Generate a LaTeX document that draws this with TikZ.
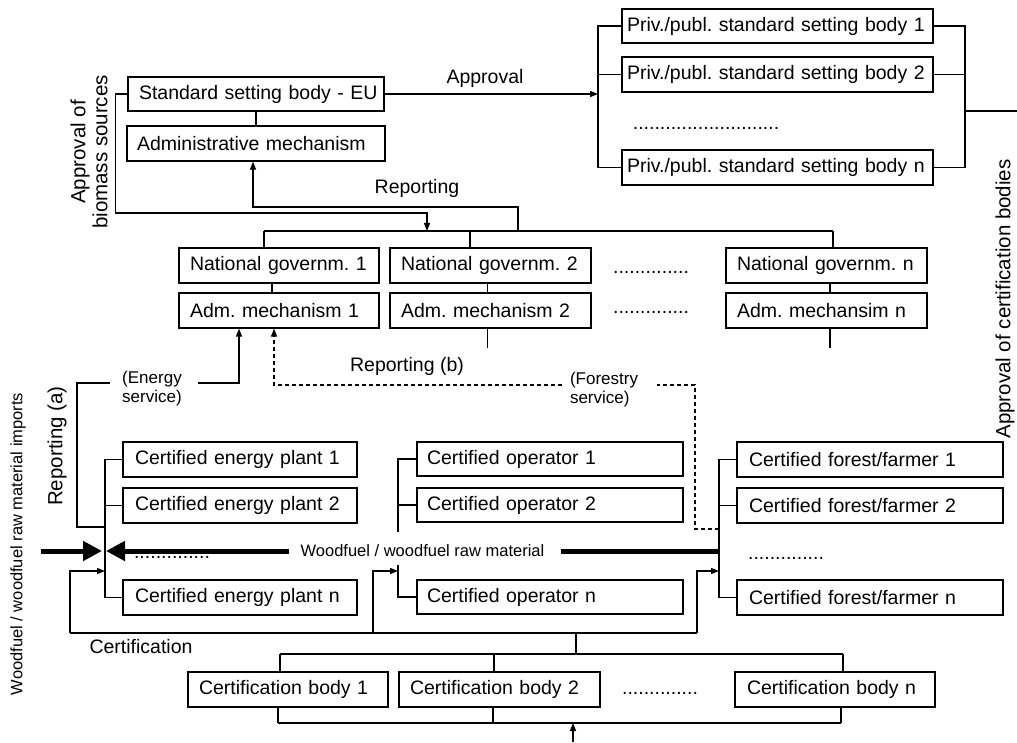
\documentclass[tikz,border=0pt]{standalone}
\usepackage{fontspec}
\setmainfont{Liberation Sans}
\usetikzlibrary{arrows.meta}
\frenchspacing
\newcommand\myfA{\fontsize{19.5}{22}\selectfont}
\newcommand\myfB{\fontsize{17}{19}\selectfont}
\newcommand\myfC{\fontsize{20.5}{22}\selectfont}
\newcommand\myfD{\fontsize{16.5}{19}\selectfont}
\newcommand\mybox[7]{%
  \pgfmathsetmacro\bxw{#4-#2-2*#6}%
  \pgfmathsetmacro\bxh{#5-#3}%
  \pgfmathsetmacro\bxcx{(#2+#4)/2}%
  \pgfmathsetmacro\bxcy{(#3+#5)/2}%
  \node[bx, text width=\bxw pt, inner xsep=#6pt, minimum height=\bxh pt] (#1) at (\bxcx,\bxcy) {\mbox{#7}};%
}
\begin{document}
\begin{tikzpicture}[x=1pt,y=-1pt,
  bx/.style={draw, line width=1.3pt, inner ysep=0pt, font=\myfA},
  ln/.style={line width=1.2pt},
  arr/.style={ln, -{Triangle[length=8pt,width=6pt]}},
  dsh/.style={line width=1.1pt, dash pattern=on 4pt off 3pt},
  big/.style={line width=5pt},
  bigarr/.style={line width=5pt, -{Triangle[length=19pt,width=19pt]}},
  lbl/.style={font=\myfA, inner sep=0pt},
  lblsm/.style={font=\myfB, inner sep=0pt, align=left},
  lblr/.style={font=\myfC, inner sep=0pt},
  lblw/.style={font=\myfD, inner sep=0pt}]
\fill[white] (0,0) rectangle (1017,743);
\useasboundingbox (0,0) rectangle (1017,743);

% boxes
\mybox{ssb}{128}{77}{384}{111}{11}{Standard setting body - EU}
\mybox{adm}{127}{126}{385}{161}{10}{Administrative mechanism}
\mybox{pa}{622}{9}{933}{43}{5}{Priv./publ. standard setting body 1}
\mybox{pb}{622}{57}{933}{92}{5}{Priv./publ. standard setting body 2}
\mybox{pn}{622}{150}{933}{185}{5}{Priv./publ. standard setting body n}
\mybox{nga}{179}{248}{379}{283}{11}{National governm. 1}
\mybox{ngb}{390}{248}{591}{283}{11}{National governm. 2}
\mybox{ngn}{726}{248}{927}{283}{11}{National governm. n}
\mybox{ama}{179}{293}{379}{328}{11}{Adm. mechanism 1}
\mybox{amb}{390}{293}{591}{328}{11}{Adm. mechanism 2}
\mybox{amn}{726}{293}{927}{328}{11}{Adm. mechansim n}
\mybox{epa}{123}{442}{357}{477}{12}{Certified energy plant 1}
\mybox{epb}{123}{488}{357}{523}{12}{Certified energy plant 2}
\mybox{epn}{123}{580}{357}{615}{12}{Certified energy plant n}
\mybox{opa}{417}{442}{683}{476}{10}{Certified operator 1}
\mybox{opb}{417}{488}{683}{522}{10}{Certified operator 2}
\mybox{opn}{417}{580}{683}{614}{10}{Certified operator n}
\mybox{ffa}{737}{442}{1003}{477}{12}{Certified forest/farmer 1}
\mybox{ffb}{737}{488}{1003}{523}{12}{Certified forest/farmer 2}
\mybox{ffn}{737}{580}{1003}{615}{12}{Certified forest/farmer n}
\mybox{cba}{188}{672}{388}{707}{11}{Certification body 1}
\mybox{cbb}{399}{672}{600}{707}{11}{Certification body 2}
\mybox{cbn}{735}{672}{935}{707}{12}{Certification body n}

% dots
\node[lbl] (d1) at (706,128) {...........................};
\node[lbl] (d2) at (651,272) {..............};
\node[lbl] (d3) at (651,312) {..............};
\node[lbl] (d4) at (172,557) {..............};
\node[lbl] (d5) at (786,558) {..............};
\node[lbl] (d6) at (660,693) {..............};

% labels
\node[lbl] (lap) at (485,78) {Approval};
\node[lbl] (lrep) at (417,188) {Reporting};
\node[lbl] (lrepb) at (407,366) {Reporting (b)};
\node[lbl] (lcert) at (141,647) {Certification};
\node[lblr, rotate=90, align=center] (lbio) at (89,152) {Approval of\\biomass sources};
\node[lblr, rotate=90] (lrepa) at (57,446) {Reporting (a)};
\node[lblw, rotate=90] (limp) at (18,544) {Woodfuel / woodfuel raw material imports};
\node[lblr, rotate=90] (lacb) at (1005,299) {Approval of certification bodies};
\node[lblsm] (es) at (152,389) {(Energy\\service)};
\node[lblsm] (fs) at (604,390) {(Forestry\\service)};
\node[lblw] (wf) at (422.5,551) {Woodfuel / woodfuel raw material};

% coordinates
\coordinate (pbl) at (598,0);
\coordinate (pbr) at (965,0);
\coordinate (apc) at (1017,111);
\coordinate (nbA) at (264,231);
\coordinate (nbC) at (470,231);
\coordinate (nbB) at (833,231);
\coordinate (rpx) at (253,0);
\coordinate (eb) at (105,0);
\coordinate (ob) at (398,0);
\coordinate (fb) at (719,0);
\coordinate (cta) at (280,654);
\coordinate (ctb) at (494,654);
\coordinate (ctn) at (843,654);
\coordinate (cua) at (278,723);
\coordinate (cub) at (493,723);
\coordinate (cun) at (841,723);

% top part
\draw[ln] (ssb.south) -- (adm.north);
\draw[arr] (ssb.east) -- (ssb.east -| pbl);
\draw[ln] (pa.west) -| (pbl |- pn.west) -- (pn.west);
\draw[ln] (pb.west) -- (pb.west -| pbl);
\draw[ln] (pa.east) -| (pbr |- pn.east) -- (pn.east);
\draw[ln] (pb.east) -- (pb.east -| pbr);
\draw[ln] (apc -| pbr) -- (apc);
\draw[arr] (ssb.west) -- ++(-12,0) |- (427,213) -- (427,231);
\draw[arr] (518,231) |- (253,207) -- (adm.south -| rpx);

% national bus
\draw[ln] (nbA) -- (nbB);
\draw[ln] (nbA) -- (nbA |- nga.north);
\draw[ln] (nbC) -- (nbC |- ngb.north);
\draw[ln] (nbB) -- (nbB |- ngn.north);
\draw[ln] ([xshift=-7pt]nga.south) -- ([xshift=-7pt]ama.north);
\draw[ln] ([xshift=-3pt]ngb.south) -- ([xshift=-3pt]amb.north);
\draw[ln] ([xshift=3.5pt]ngn.south) -- ([xshift=3.5pt]amn.north);
\draw[ln] ([xshift=-3pt]amb.south) -- ++(0,19);
\draw[ln] ([xshift=3.5pt]amn.south) -- ++(0,19);

% reporting (a)
\draw[ln] (105,527) -| (77,383) -- (110,383);
\draw[arr] (198,383) -| ([xshift=-40pt]ama.south);
% reporting (b)
\draw[dsh] (fb |- 0,529) -- (695,529) |- (657,385);
\draw[dsh, -{Triangle[length=8pt,width=6pt]}] (562,385) -| ([xshift=-5pt]ama.south);

% buses of certified parties
\draw[ln] (epa.west) -| (eb |- epn.west) -- (epn.west);
\draw[ln] (epb.west) -- (epb.west -| eb);
\draw[ln] (opa.west) -| (398,532);
\draw[ln] (398,565) |- (opn.west);
\draw[ln] (opb.west) -- (opb.west -| ob);
\draw[ln] (ffa.west) -| (fb |- ffn.west) -- (ffn.west);
\draw[ln] (ffb.west) -- (ffb.west -| fb);

% woodfuel flows
\draw[bigarr] (41,551) -- (102,551);
\draw[bigarr] ([xshift=-11pt]wf.west) -- (106,551);
\draw[big] ([xshift=16pt]wf.east) -- (fb |- 0,551);

% certification
\draw[ln] (70,633) -- (697,633);
\draw[arr] (70,633) |- (105,571);
\draw[arr] (373,633) |- (398,571);
\draw[arr] (697,633) |- (719,571);
\draw[ln] (576,633) -- (576,654);
\draw[ln] (cta) -- (ctn);
\draw[ln] (cta) -- (cta |- cba.north);
\draw[ln] (ctb) -- (ctb |- cbb.north);
\draw[ln] (ctn) -- (ctn |- cbn.north);
\draw[ln] (cua) -- (cun);
\draw[ln] (cua) -- (cua |- cba.south);
\draw[ln] (cub) -- (cub |- cbb.south);
\draw[ln] (cun) -- (cun |- cbn.south);
\draw[arr] (573,742) -- (573,723);
\end{tikzpicture}
\end{document}
